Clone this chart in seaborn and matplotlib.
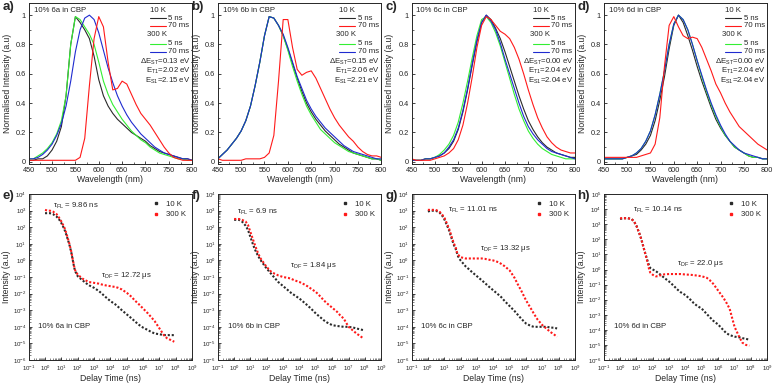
import numpy as np
import pandas as pd
import matplotlib
matplotlib.use("Agg")
import matplotlib.pyplot as plt
import seaborn as sns
from matplotlib.ticker import MultipleLocator, LogLocator, NullFormatter
from matplotlib.lines import Line2D

# ---------------- data ----------------
WL = list(range(450, 801, 10))  # wavelength grid (nm)

# panel a (6a)
a_10K_5ns = [0.01,0.01,0.02,0.02,0.04,0.08,0.14,0.24,0.45,0.80,0.99,0.95,0.90,0.84,0.72,0.56,0.45,0.38,0.33,0.29,0.26,0.23,0.20,0.18,0.16,0.14,0.11,0.09,0.07,0.06,0.05,0.04,0.03,0.02,0.02,0.01]
a_10K_70ms = [0.01,0.01,0.01,0.01,0.01,0.01,0.01,0.01,0.01,0.01,0.01,0.03,0.16,0.52,0.84,0.99,0.92,0.68,0.49,0.50,0.55,0.53,0.46,0.39,0.33,0.29,0.25,0.20,0.15,0.10,0.06,0.03,0.02,0.01,0.01,0.01]
a_300K_5ns = [0.02,0.02,0.04,0.06,0.09,0.13,0.19,0.28,0.45,0.80,0.99,0.97,0.92,0.87,0.80,0.68,0.55,0.46,0.39,0.34,0.29,0.25,0.21,0.18,0.15,0.13,0.10,0.08,0.06,0.05,0.04,0.03,0.02,0.02,0.01,0.01]
a_300K_70ms = [0.02,0.02,0.03,0.05,0.08,0.12,0.18,0.26,0.38,0.55,0.75,0.90,0.98,1.00,0.97,0.88,0.76,0.64,0.54,0.45,0.38,0.32,0.27,0.23,0.19,0.16,0.13,0.10,0.08,0.06,0.05,0.04,0.03,0.02,0.02,0.01]

# panel b (6b)
b_10K_5ns = [0.02,0.05,0.08,0.12,0.16,0.21,0.28,0.38,0.52,0.68,0.86,0.99,0.98,0.93,0.86,0.77,0.67,0.57,0.48,0.40,0.34,0.29,0.25,0.21,0.18,0.15,0.12,0.10,0.08,0.06,0.05,0.04,0.03,0.02,0.02,0.01]
b_10K_70ms = [0.02,0.01,0.01,0.01,0.01,0.01,0.02,0.02,0.02,0.02,0.03,0.06,0.18,0.55,0.97,0.97,0.78,0.63,0.59,0.61,0.62,0.57,0.50,0.43,0.36,0.30,0.25,0.21,0.17,0.14,0.10,0.07,0.05,0.04,0.04,0.03]
b_300K_5ns = [0.02,0.05,0.08,0.12,0.16,0.21,0.28,0.38,0.52,0.68,0.86,0.99,0.98,0.93,0.86,0.76,0.65,0.55,0.46,0.38,0.32,0.27,0.22,0.19,0.16,0.13,0.11,0.09,0.07,0.06,0.05,0.04,0.03,0.02,0.02,0.01]
b_300K_70ms = [0.02,0.05,0.08,0.12,0.16,0.21,0.28,0.38,0.52,0.68,0.86,0.99,0.98,0.93,0.87,0.78,0.68,0.58,0.50,0.42,0.36,0.31,0.27,0.23,0.20,0.17,0.14,0.11,0.09,0.07,0.06,0.05,0.04,0.03,0.02,0.02]

# panel c (6c)
c_10K_5ns = [0.01,0.01,0.01,0.02,0.02,0.03,0.04,0.06,0.09,0.14,0.22,0.34,0.49,0.66,0.82,0.95,1.00,0.97,0.91,0.84,0.75,0.65,0.55,0.45,0.36,0.28,0.22,0.17,0.13,0.10,0.08,0.06,0.05,0.04,0.03,0.03]
c_10K_70ms = [0.02,0.01,0.01,0.01,0.01,0.02,0.03,0.04,0.06,0.09,0.15,0.25,0.40,0.58,0.78,0.93,0.99,0.97,0.93,0.89,0.87,0.84,0.78,0.70,0.60,0.49,0.39,0.30,0.23,0.17,0.13,0.10,0.08,0.07,0.06,0.06]
c_300K_5ns = [0.01,0.01,0.01,0.02,0.02,0.03,0.05,0.08,0.12,0.18,0.27,0.40,0.55,0.71,0.86,0.97,0.99,0.95,0.88,0.79,0.68,0.57,0.46,0.36,0.28,0.21,0.16,0.12,0.09,0.07,0.05,0.04,0.03,0.02,0.02,0.02]
c_300K_70ms = [0.01,0.01,0.01,0.02,0.02,0.03,0.04,0.06,0.10,0.15,0.23,0.35,0.50,0.67,0.83,0.95,1.00,0.96,0.90,0.81,0.70,0.60,0.50,0.40,0.31,0.24,0.19,0.15,0.12,0.09,0.07,0.06,0.05,0.04,0.03,0.02]

# panel d (6d)
d_10K_5ns = [0.02,0.02,0.02,0.02,0.02,0.03,0.04,0.05,0.08,0.12,0.18,0.28,0.42,0.58,0.77,0.93,1.00,0.95,0.86,0.76,0.65,0.55,0.46,0.37,0.29,0.23,0.18,0.14,0.10,0.08,0.06,0.04,0.03,0.03,0.02,0.02]
d_10K_70ms = [0.03,0.03,0.03,0.03,0.03,0.03,0.03,0.03,0.04,0.05,0.06,0.12,0.30,0.65,0.93,0.99,0.92,0.86,0.84,0.85,0.84,0.78,0.70,0.62,0.53,0.47,0.40,0.34,0.29,0.24,0.21,0.18,0.15,0.12,0.10,0.08]
d_300K_5ns = [0.02,0.02,0.02,0.02,0.02,0.03,0.04,0.06,0.09,0.14,0.21,0.32,0.46,0.62,0.80,0.94,1.00,0.97,0.90,0.80,0.69,0.58,0.48,0.39,0.31,0.24,0.18,0.14,0.10,0.08,0.06,0.04,0.03,0.03,0.02,0.02]
d_300K_70ms = [0.02,0.02,0.02,0.02,0.02,0.03,0.04,0.06,0.09,0.14,0.21,0.32,0.46,0.62,0.80,0.94,1.00,0.97,0.90,0.80,0.69,0.59,0.49,0.40,0.32,0.25,0.19,0.14,0.11,0.08,0.06,0.05,0.04,0.03,0.02,0.02]

# transient decays: delay time (ns) and log10 intensity
T = [1, 1.5, 2, 3, 5, 7, 10, 15, 20, 30, 40, 50, 60, 70, 100, 150, 200, 300, 500,
     1e3, 2e3, 3e3, 5e3, 1e4, 2e4, 3e4, 5e4, 1e5, 2e5, 3e5, 5e5, 1e6, 2e6, 3e6, 5e6,
     1e7, 2e7, 3e7, 5e7, 8e7]
e_10K = [2.85,2.85,2.85,2.8,2.65,2.5,2.25,1.9,1.55,1.0,0.5,0.0,-0.4,-0.65,-0.95,-1.1,-1.2,-1.35,-1.5,-1.65,-1.85,-2.0,-2.2,-2.45,-2.65,-2.8,-3.0,-3.25,-3.5,-3.65,-3.85,-4.05,-4.2,-4.3,-4.4,-4.45,-4.5,-4.5,-4.5,-4.5]
e_300K = [3.05,3.0,3.0,2.95,2.8,2.6,2.35,2.0,1.65,1.05,0.55,0.05,-0.35,-0.6,-0.85,-1.0,-1.1,-1.2,-1.3,-1.35,-1.4,-1.45,-1.5,-1.55,-1.6,-1.65,-1.75,-1.95,-2.2,-2.4,-2.6,-2.9,-3.2,-3.4,-3.65,-4.1,-4.55,-4.7,-4.8,-4.9]
f_10K = [2.45,2.45,2.45,2.35,2.1,1.85,1.4,0.9,0.6,0.25,0.05,-0.1,-0.2,-0.3,-0.5,-0.7,-0.85,-1.05,-1.3,-1.55,-1.8,-1.95,-2.1,-2.3,-2.55,-2.7,-2.9,-3.2,-3.45,-3.6,-3.75,-3.9,-3.95,-3.97,-4.0,-4.0,-4.05,-4.1,-4.15,-4.2]
f_300K = [2.5,2.5,2.5,2.45,2.35,2.15,1.7,1.2,0.85,0.4,0.15,0.0,-0.1,-0.2,-0.4,-0.6,-0.7,-0.8,-0.9,-1.0,-1.05,-1.1,-1.2,-1.3,-1.45,-1.55,-1.7,-1.9,-2.2,-2.4,-2.6,-2.85,-3.1,-3.3,-3.5,-4.0,-4.25,-4.4,-4.55,-4.7]
g_10K = [2.95,3.0,3.0,3.0,2.9,2.75,2.5,2.1,1.8,1.25,0.9,0.7,0.45,0.25,0.0,-0.2,-0.35,-0.5,-0.7,-0.95,-1.2,-1.35,-1.55,-1.8,-2.05,-2.2,-2.45,-2.75,-3.05,-3.25,-3.5,-3.8,-3.95,-4.0,-4.0,-4.0,-4.0,-4.05,-4.05,-4.1]
g_300K = [3.05,3.05,3.05,3.05,2.95,2.8,2.6,2.2,1.9,1.35,1.0,0.8,0.5,0.35,0.2,0.15,0.12,0.12,0.12,0.12,0.12,0.1,0.05,0.0,-0.1,-0.2,-0.35,-0.6,-1.05,-1.4,-1.8,-2.4,-2.9,-3.2,-3.55,-3.9,-4.15,-4.3,-4.45,-4.6]
h_10K = [3.35,3.4,3.4,3.4,3.35,3.2,2.9,2.4,2.0,1.3,0.85,0.5,0.25,0.1,0.0,-0.1,-0.2,-0.35,-0.55,-0.8,-1.1,-1.3,-1.5,-1.7,-2.0,-2.2,-2.4,-2.6,-2.95,-3.15,-3.4,-3.65,-4.0,-4.2,-4.35,-4.45,-4.5,-4.55,-4.6,-4.65]
h_300K = [3.4,3.4,3.4,3.4,3.35,3.2,2.9,2.4,2.0,1.3,0.8,0.4,0.0,-0.2,-0.35,-0.45,-0.45,-0.38,-0.32,-0.3,-0.3,-0.3,-0.3,-0.33,-0.35,-0.37,-0.4,-0.45,-0.55,-0.7,-0.95,-1.4,-1.85,-2.15,-2.6,-3.8,-4.5,-4.85,-5.0,-5.05]

compounds = ["6a", "6b", "6c", "6d"]
dEst = ["0.13", "0.15", "0.00", "0.00"]
Et1 = ["2.02", "2.06", "2.04", "2.04"]
Es1 = ["2.15", "2.21", "2.04", "2.04"]
tau_fl = ["9.86", "6.9", "11.01", "10.14"]
tau_df = ["12.72", "1.84", "13.32", "22.0"]
top_labels = ["a)", "b)", "c)", "d)"]
bot_labels = ["e)", "f)", "g)", "h)"]

spectra = [
    (a_10K_5ns, a_10K_70ms, a_300K_5ns, a_300K_70ms),
    (b_10K_5ns, b_10K_70ms, b_300K_5ns, b_300K_70ms),
    (c_10K_5ns, c_10K_70ms, c_300K_5ns, c_300K_70ms),
    (d_10K_5ns, d_10K_70ms, d_300K_5ns, d_300K_70ms),
]
decays = [(e_10K, e_300K), (f_10K, f_300K), (g_10K, g_300K), (h_10K, h_300K)]

# ---------------- style ----------------
sns.set_theme(style="ticks")
plt.rcParams["font.family"] = ["Liberation Sans", "DejaVu Sans"]
plt.rcParams["mathtext.fontset"] = "custom"
plt.rcParams["mathtext.rm"] = "Liberation Sans"
plt.rcParams["mathtext.it"] = "Liberation Sans:italic"
plt.rcParams["mathtext.bf"] = "Liberation Sans:bold"
plt.rcParams["axes.linewidth"] = 0.7

BLACK = "#2a2a2a"
RED = "#ff1a1a"
GREEN = "#33ee33"
BLUE = "#1f2bd0"

fig = plt.figure(figsize=(7.75, 3.84), dpi=100)
lefts = [0.037, 0.281, 0.531, 0.779]
W = 0.211
FS_TICK = 5.3
FS_LAB = 6.2
FS_TXT = 5.6

for i in range(4):
    # ---------- spectra ----------
    ax = fig.add_axes([lefts[i], 0.573, W, 0.42])
    s10a, s10b, s300a, s300b = spectra[i]
    sns.lineplot(x=WL, y=s10a, color=BLACK, lw=0.8, ax=ax)
    sns.lineplot(x=WL, y=s300a, color=GREEN, lw=0.8, ax=ax)
    sns.lineplot(x=WL, y=s300b, color=BLUE, lw=0.8, ax=ax)
    sns.lineplot(x=WL, y=s10b, color=RED, lw=0.8, ax=ax)
    ax.set_xlim(450, 800)
    ax.set_ylim(-0.015, 1.085)
    ax.xaxis.set_major_locator(MultipleLocator(50))
    ax.xaxis.set_minor_locator(MultipleLocator(25))
    ax.yaxis.set_minor_locator(MultipleLocator(0.1))
    ax.set_yticks([0, 0.2, 0.4, 0.6, 0.8, 1.0])
    ax.set_yticklabels(["0", "0.2", "0.4", "0.6", "0.8", "1"])
    ax.tick_params(which="both", direction="in", labelsize=FS_TICK, pad=2)
    ax.tick_params(which="major", length=2.5, width=0.6)
    ax.tick_params(which="minor", length=1.4, width=0.5)
    ax.set_xlabel("Wavelength (nm)", fontsize=FS_LAB, labelpad=1)
    ax.set_ylabel("Normalised Intensity (a.u)", fontsize=FS_LAB)
    ax.yaxis.set_label_coords(-0.105, 0.5)
    tr = ax.transAxes
    ax.text(0.03, 0.975, f"10% {compounds[i]} in CBP", transform=tr, fontsize=FS_TXT, va="top", ha="left")
    lx0, lx1, tx = 0.74, 0.84, 0.855
    ax.text(lx0, 0.95, "10 K", transform=tr, fontsize=FS_TXT, va="center")
    ax.plot([lx0, lx1], [0.905, 0.905], transform=tr, color=BLACK, lw=0.8)
    ax.text(tx, 0.905, "5 ns", transform=tr, fontsize=FS_TXT, va="center")
    ax.plot([lx0, lx1], [0.857, 0.857], transform=tr, color=RED, lw=0.8)
    ax.text(tx, 0.857, "70 ms", transform=tr, fontsize=FS_TXT, va="center")
    ax.text(lx0 - 0.015, 0.8, "300 K", transform=tr, fontsize=FS_TXT, va="center")
    ax.plot([lx0, lx1], [0.745, 0.745], transform=tr, color=GREEN, lw=0.8)
    ax.text(tx, 0.745, "5 ns", transform=tr, fontsize=FS_TXT, va="center")
    ax.plot([lx0, lx1], [0.695, 0.695], transform=tr, color=BLUE, lw=0.8)
    ax.text(tx, 0.695, "70 ms", transform=tr, fontsize=FS_TXT, va="center")
    ax.text(0.99, 0.635, "ΔE$_{\\mathrm{ST}}$=" + dEst[i] + " eV", transform=tr, fontsize=FS_TXT, va="center", ha="right")
    ax.text(0.99, 0.575, "E$_{\\mathrm{T1}}$=" + Et1[i] + " eV", transform=tr, fontsize=FS_TXT, va="center", ha="right")
    ax.text(0.99, 0.515, "E$_{\\mathrm{S1}}$=" + Es1[i] + " eV", transform=tr, fontsize=FS_TXT, va="center", ha="right")
    fig.text(lefts[i] - 0.034, 0.998, top_labels[i], fontsize=9.5, fontweight="bold", va="top", ha="left")

    # ---------- decays ----------
    ax2 = fig.add_axes([lefts[i], 0.0625, W, 0.432])
    d10, d300 = decays[i]
    df = pd.DataFrame({"t": T, "k10": np.power(10.0, d10), "k300": np.power(10.0, d300)})
    sns.lineplot(data=df, x="t", y="k10", color=BLACK, lw=1.5, linestyle=(0, (1, 0.9)), ax=ax2)
    sns.lineplot(data=df, x="t", y="k300", color=RED, lw=1.5, linestyle=(0, (1, 0.9)), ax=ax2)
    ax2.set_xscale("log")
    ax2.set_yscale("log")
    ax2.set_xlim(1e-1, 1e9)
    top = 1e5 if i == 3 else 1e4
    ax2.set_ylim(1e-6, top)
    ax2.xaxis.set_major_locator(LogLocator(base=10, numticks=20))
    ax2.yaxis.set_major_locator(LogLocator(base=10, numticks=20))
    ax2.xaxis.set_minor_locator(LogLocator(base=10, subs=np.arange(2, 10), numticks=20))
    ax2.yaxis.set_minor_locator(LogLocator(base=10, subs=np.arange(2, 10), numticks=20))
    ax2.xaxis.set_minor_formatter(NullFormatter())
    ax2.yaxis.set_minor_formatter(NullFormatter())
    ax2.tick_params(which="both", direction="in", labelsize=4.4)
    ax2.tick_params(axis="x", which="both", pad=2.6)
    ax2.tick_params(axis="y", which="both", pad=1.5)
    ax2.tick_params(which="major", length=2.5, width=0.6)
    ax2.tick_params(which="minor", length=1.3, width=0.4)
    ax2.set_xlabel("Delay Time (ns)", fontsize=FS_LAB, labelpad=1)
    ax2.set_ylabel("Intensity (a.u)", fontsize=FS_LAB)
    ax2.yaxis.set_label_coords(-0.11, 0.5)
    tr2 = ax2.transAxes
    fl_pos = [(0.15, 0.93), (0.12, 0.89), (0.22, 0.905), (0.18, 0.905)][i]
    df_pos = [(0.44, 0.51), (0.44, 0.57), (0.42, 0.67), (0.45, 0.58)][i]
    ax2.text(*fl_pos, "τ$_{\\mathrm{FL}}$ = " + tau_fl[i] + " ns", transform=tr2, fontsize=FS_TXT, va="center")
    ax2.text(*df_pos, "τ$_{\\mathrm{DF}}$ = " + tau_df[i] + " μs", transform=tr2, fontsize=FS_TXT, va="center")
    ax2.text(0.06, 0.2, f"10% {compounds[i]} in CBP", transform=tr2, fontsize=FS_TXT, va="center")
    handles = [Line2D([], [], ls="none", marker="s", ms=2.0, color=BLACK),
               Line2D([], [], ls="none", marker="s", ms=2.0, color=RED)]
    ax2.legend(handles, ["10 K", "300 K"], loc="upper right", fontsize=FS_TXT, frameon=False,
               handlelength=1.0, handletextpad=0.8, borderaxespad=0.4, labelspacing=0.4)
    fig.text(lefts[i] - 0.034, 0.505, bot_labels[i], fontsize=9.5, fontweight="bold", va="top", ha="left")

fig.savefig("out.png", dpi=100)
